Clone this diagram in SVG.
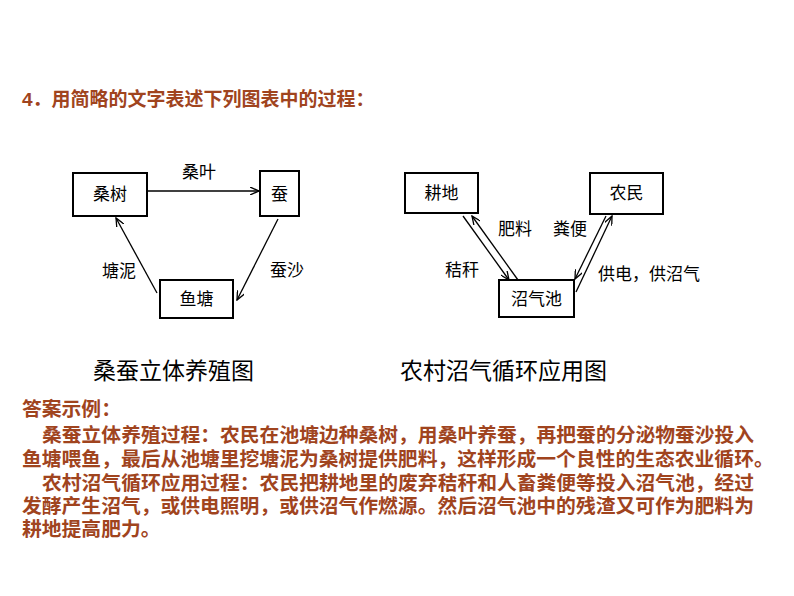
<svg xmlns="http://www.w3.org/2000/svg" width="794" height="596" viewBox="0 0 794 596">
<style>
.box{fill:#fff;stroke:#000;stroke-width:2}
.n{font-family:"Liberation Sans","Noto Sans CJK SC",sans-serif;font-size:17px;fill:#000;text-anchor:middle}
.l{font-family:"Liberation Sans","Noto Sans CJK SC",sans-serif;font-size:17px;fill:#000}
.c{font-family:"Liberation Serif","Noto Sans CJK SC",serif;font-size:23px;fill:#000}
.r{font-family:"Liberation Sans","Noto Sans CJK SC",sans-serif;font-size:19.8px;font-weight:bold;fill:#a0441e}
.e{stroke:#000;stroke-width:1.3;fill:none;marker-end:url(#a)}
</style>
<defs><marker id="a" markerWidth="10" markerHeight="8" refX="9" refY="4" orient="auto" markerUnits="userSpaceOnUse"><path d="M0,0 L9,4 L0,8" fill="none" stroke="#000" stroke-width="1.3"/></marker></defs>
<rect width="794" height="596" fill="#fff"/>
<text class="r" x="22" y="106" style="font-size:19px">4．用简略的文字表述下列图表中的过程：</text>
<g id="connectors">
<line class="e" x1="148" y1="191" x2="259" y2="191"/>
<line class="e" x1="278" y1="219" x2="237" y2="300"/>
<line class="e" x1="157" y1="293" x2="116" y2="218"/>
<line class="e" x1="463" y1="216" x2="509" y2="280"/>
<line class="e" x1="518" y1="280" x2="472" y2="216"/>
<line class="e" x1="606" y1="216" x2="575" y2="279"/>
<line class="e" x1="576" y1="292" x2="612" y2="216"/>
<text class="l" x="182" y="178">桑叶</text>
<text class="l" x="270" y="276">蚕沙</text>
<text class="l" x="102" y="277">塘泥</text>
<text class="l" x="498" y="235">肥料</text>
<text class="l" x="553" y="235">粪便</text>
<text class="l" x="445" y="276">秸秆</text>
<text class="l" x="598" y="280">供电，供沼气</text>
</g>
<g id="n1"><rect class="box" x="73" y="173" width="74" height="43"/><text class="n" x="110" y="200">桑树</text></g>
<g id="n2"><rect class="box" x="260" y="171" width="39" height="45"/><text class="n" x="279.5" y="200">蚕</text></g>
<g id="n3"><rect class="box" x="160" y="280" width="73" height="38"/><text class="n" x="196.5" y="305">鱼塘</text></g>
<g id="n4"><rect class="box" x="405" y="173" width="73" height="40"/><text class="n" x="441.5" y="199">耕地</text></g>
<g id="n5"><rect class="box" x="590" y="173" width="73" height="41"/><text class="n" x="626.5" y="199">农民</text></g>
<g id="n6"><rect class="box" x="499" y="280" width="75" height="37"/><text class="n" x="536.5" y="305">沼气池</text></g>
<text class="c" x="93" y="379">桑蚕立体养殖图</text>
<text class="c" x="400" y="379">农村沼气循环应用图</text>
<text class="r" x="22" y="416">答案示例：</text>
<text class="r" x="42" y="442">桑蚕立体养殖过程：农民在池塘边种桑树，用桑叶养蚕，再把蚕的分泌物蚕沙投入</text>
<text class="r" x="22" y="466">鱼塘喂鱼，最后从池塘里挖塘泥为桑树提供肥料，这样形成一个良性的生态农业循环。</text>
<text class="r" x="42" y="490">农村沼气循环应用过程：农民把耕地里的废弃秸秆和人畜粪便等投入沼气池，经过</text>
<text class="r" x="22" y="513">发酵产生沼气，或供电照明，或供沼气作燃源。然后沼气池中的残渣又可作为肥料为</text>
<text class="r" x="22" y="536">耕地提高肥力。</text>
</svg>
